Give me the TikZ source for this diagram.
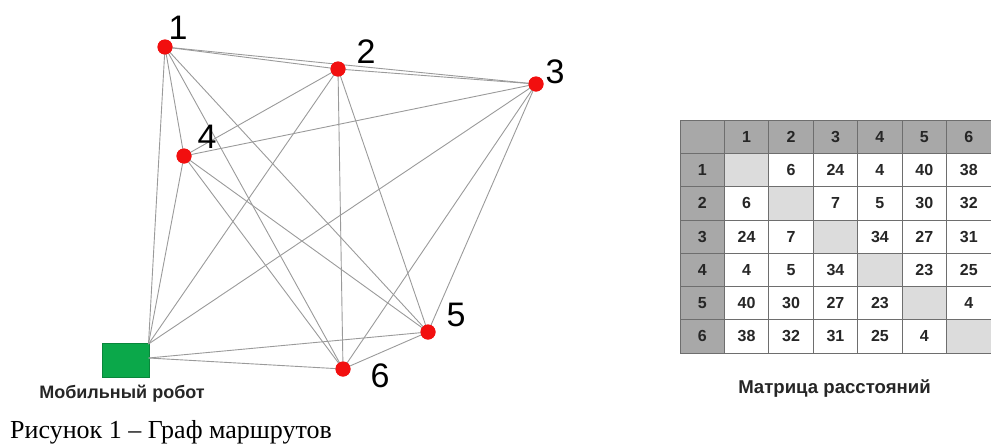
\documentclass[tikz,border=0pt]{standalone}
\usepackage{fontspec}
\setmainfont{Liberation Serif}
\newfontfamily\arialf{Liberation Sans}
\definecolor{edgegray}{HTML}{9A9A9A}
\definecolor{nodered}{HTML}{F20F0F}
\definecolor{robotgreen}{HTML}{0BA84A}
\definecolor{hdr}{HTML}{A8A8A8}
\definecolor{diag}{HTML}{DCDCDC}
\definecolor{bord}{HTML}{6E6E6E}
\begin{document}
\begin{tikzpicture}[x=1pt,y=-1pt,
  vert/.style={circle,fill=nodered,inner sep=0pt,minimum size=15pt},
  edge/.style={draw=edgegray,line width=0.9pt},
  numlabel/.style={inner sep=0pt,font=\arialf\fontsize{34}{36}\selectfont},
  cell/.style={draw=bord,line width=0.8pt,minimum width=44.43pt,minimum height=33.3pt,inner sep=0pt,
    font=\arialf\bfseries\fontsize{16}{18}\selectfont,text=black!85},
  boldcap/.style={inner sep=0pt,font=\arialf\bfseries\fontsize{18}{20}\selectfont,text=black!85}]
\useasboundingbox (0,0) rectangle (991,445);
% robot
\node[fill=robotgreen,draw=robotgreen!80!black,line width=0.5pt,minimum width=47pt,minimum height=34pt,inner sep=0pt] (R) at (125.5,360) {};
\coordinate (Rt) at (148.5,344);
\coordinate (Rs) at (148.5,358);
% vertices
\node[vert] (n1) at (165,47) {};
\node[vert] (n2) at (338,69) {};
\node[vert] (n3) at (536,84) {};
\node[vert] (n4) at (184,156) {};
\node[vert] (n5) at (428,332) {};
\node[vert] (n6) at (343,369) {};
% edges
\foreach \a/\b in {n1/n2,n1/n3,n1/n4,n1/n5,n1/n6,n2/n3,n2/n4,n2/n5,n2/n6,n3/n4,n3/n5,n3/n6,n4/n5,n4/n6,n5/n6}
  \draw[edge] (\a.center) -- (\b.center);
\foreach \b in {n1,n2,n3,n4}
  \draw[edge] (Rt) -- (\b.center);
\foreach \b in {n5,n6}
  \draw[edge] (Rs) -- (\b.center);
% redraw vertices on top
\foreach \n in {n1,n2,n3,n4,n5,n6}
  \fill[nodered] (\n) circle (7.5pt);
% labels
\node[numlabel] (l1) at (178,28) {1};
\node[numlabel] (l2) at (366,52) {2};
\node[numlabel] (l3) at (555,72) {3};
\node[numlabel] (l4) at (207,137) {4};
\node[numlabel] (l5) at (456,315) {5};
\node[numlabel] (l6) at (380,376) {6};
\node[boldcap,anchor=base] (rl) at (122,398) {Мобильный робот};
% distance table
\node[cell,fill=hdr] (h00) at (702.2,136.65) {};
\foreach \c in {1,...,6}
  \node[cell,fill=hdr] (h0\c) at ({702.2+44.43*\c},136.65) {\c};
\foreach \r/\row in {1/{0,6,24,4,40,38},2/{6,0,7,5,30,32},3/{24,7,0,34,27,31},4/{4,5,34,0,23,25},5/{40,30,27,23,0,4},6/{38,32,31,25,4,0}}{
  \node[cell,fill=hdr] (h\r0) at (702.2,{136.65+33.3*\r}) {\r};
  \foreach \v [count=\c] in \row {
    \ifnum\c=\r
      \node[cell,fill=diag] (t\r\c) at ({702.2+44.43*\c},{136.65+33.3*\r}) {};
    \else
      \node[cell,fill=white] (t\r\c) at ({702.2+44.43*\c},{136.65+33.3*\r}) {\v};
    \fi
  }
}
\node[boldcap,anchor=base,font=\arialf\bfseries\fontsize{18.6}{20}\selectfont] (tl) at (834.5,393) {Матрица расстояний};
% caption
\node[anchor=base west,inner sep=0pt,font=\fontsize{26}{30}\selectfont] (cap) at (10,438) {Рисунок 1 – Граф маршрутов};
\end{tikzpicture}
\end{document}
